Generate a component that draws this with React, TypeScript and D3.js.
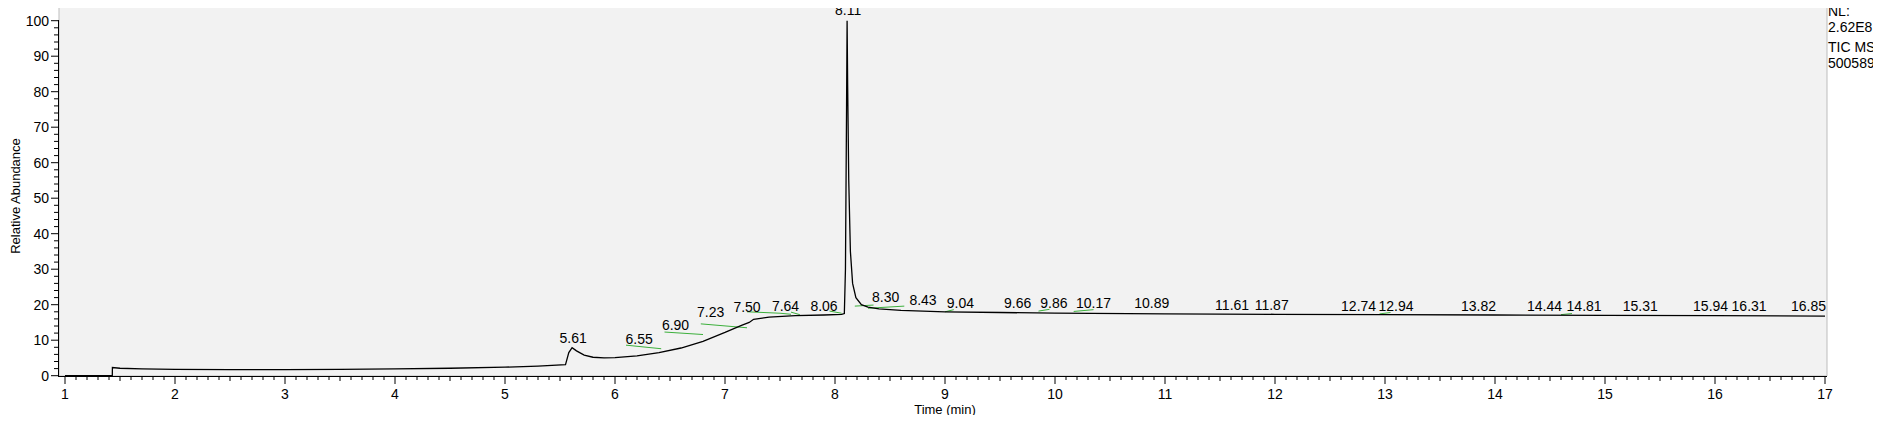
import { useEffect, useRef } from 'react'
import * as d3 from 'd3'

// trace control points (time min, relative abundance %)
const traceTime = [1.0, 1.43, 1.431, 1.5, 1.7, 2.0, 2.5, 3.0, 3.5, 4.0, 4.5, 5.0, 5.3, 5.55, 5.58, 5.61, 5.65, 5.72, 5.8, 5.9, 6.0, 6.2, 6.4, 6.6, 6.8, 7.0, 7.15, 7.22, 7.26, 7.4, 7.64, 7.9, 8.06, 8.085, 8.095, 8.105, 8.11, 8.115, 8.125, 8.14, 8.16, 8.19, 8.24, 8.3, 8.4, 8.6, 9.0, 9.5, 10.0, 11.0, 12.0, 13.0, 14.0, 15.0, 16.0, 17.0]
const traceValue = [0.0, 0.0, 2.3, 2.1, 1.9, 1.8, 1.7, 1.7, 1.8, 1.9, 2.1, 2.4, 2.7, 3.1, 6.5, 7.9, 7.0, 5.8, 5.2, 5.0, 5.1, 5.6, 6.5, 7.8, 9.7, 12.2, 14.2, 15.0, 15.9, 16.5, 16.9, 17.1, 17.3, 17.5, 30, 75, 100, 82, 55, 35, 26, 22, 20, 19.3, 18.8, 18.4, 18.0, 17.8, 17.6, 17.4, 17.3, 17.2, 17.1, 17.0, 16.9, 16.8]

const peakNames = ['5.61', '6.55', '6.90', '7.23', '7.50', '7.64', '8.06', '8.11', '8.30', '8.43', '9.04', '9.66', '9.86', '10.17', '10.89', '11.61', '11.87', '12.74', '12.94', '13.82', '14.44', '14.81', '15.31', '15.94', '16.31', '16.85']
// where each label is drawn (time of its centre, abundance of its baseline)
const labelTime = [5.62, 6.22, 6.55, 6.87, 7.2, 7.55, 7.9, 8.12, 8.46, 8.8, 9.14, 9.66, 9.99, 10.35, 10.88, 11.61, 11.97, 12.76, 13.1, 13.85, 14.45, 14.81, 15.32, 15.96, 16.31, 16.85]
const labelValue = [9.2, 8.8, 12.9, 16.6, 18.0, 18.3, 18.3, 101.5, 20.7, 20.0, 19.0, 19.0, 19.0, 19.0, 19.0, 18.4, 18.4, 18.3, 18.2, 18.2, 18.2, 18.2, 18.2, 18.2, 18.2, 18.2]
// integration baselines: [start, end, startValue, endValue]
const greenSegs: [number, number, number, number][] = [
  [6.1, 6.42, 8.6, 7.6], [6.45, 6.8, 12.3, 11.6], [6.78, 7.2, 14.6, 13.5],
  [7.2, 7.5, 18.0, 17.6], [7.5, 7.6, 17.6, 17.3], [7.6, 7.68, 17.9, 17.2],
  [7.95, 8.06, 18.2, 17.6], [8.18, 8.35, 19.6, 19.9], [8.3, 8.63, 19.0, 19.6],
  [9.0, 9.08, 18.0, 18.6], [9.85, 9.95, 18.2, 18.7], [10.17, 10.35, 18.1, 18.6],
  [12.95, 13.05, 17.4, 17.8], [14.6, 14.7, 17.2, 17.5]
]

const yTicks = [0, 10, 20, 30, 40, 50, 60, 70, 80, 90, 100]
const xTicks = [1, 2, 3, 4, 5, 6, 7, 8, 9, 10, 11, 12, 13, 14, 15, 16, 17]
const sideText = ['NL:', '2.62E8', 'TIC  MS', '500589']

export default function App() {
  const svgRef = useRef<SVGSVGElement>(null)

  useEffect(() => {
    if (!svgRef.current) return
    const svg = d3.select(svgRef.current)
    svg.selectAll('*').remove()
    const font = 'Liberation Sans, Arial, sans-serif'

    const x = d3.scaleLinear().domain([1, 17]).range([65, 1825])
    const y = d3.scaleLinear().domain([0, 100]).range([375.7, 20.7])

    // plot frame
    svg.append('path')
      .attr('d', 'M59,376 L59,8 Q59,4 63,4 L1827,4 L1827,376 Z')
      .attr('fill', '#f2f2f2').attr('stroke', '#bdbdbd')

    // axes
    const g = svg.append('g')
    g.append('line').attr('x1', 58.5).attr('x2', 58.5).attr('y1', 20).attr('y2', 376).attr('stroke', '#000')
    g.append('line').attr('x1', 58).attr('x2', 1827).attr('y1', 376.5).attr('y2', 376.5).attr('stroke', '#000')
    d3.range(0, 101, 2).forEach(v => {
      const major = v % 10 === 0
      g.append('line').attr('x1', major ? 51 : 54).attr('x2', 58.5)
        .attr('y1', y(v)).attr('y2', y(v)).attr('stroke', '#000')
    })
    yTicks.forEach(v => {
      g.append('text').attr('x', 49).attr('y', y(v) + 5).attr('text-anchor', 'end')
        .style('font-family', font).style('font-size', '14px').text(v)
    })
    d3.range(10, 171).forEach(k => {
      const t = k / 10
      const major = k % 10 === 0
      g.append('line').attr('x1', x(t)).attr('x2', x(t)).attr('y1', 376.5)
        .attr('y2', major ? 384 : (k % 5 === 0 ? 381 : 380)).attr('stroke', '#000')
    })
    xTicks.forEach(t => {
      g.append('text').attr('x', x(t)).attr('y', 399).attr('text-anchor', 'middle')
        .style('font-family', font).style('font-size', '14px').text(t)
    })
    svg.append('text').attr('x', x(9)).attr('y', 414).attr('text-anchor', 'middle')
      .style('font-family', font).style('font-size', '13px').text('Time (min)')
    svg.append('text').attr('transform', 'translate(20,196) rotate(-90)').attr('text-anchor', 'middle')
      .style('font-family', font).style('font-size', '13px').text('Relative Abundance')

    // green integration baselines
    greenSegs.forEach(([a, b, va, vb]) => {
      svg.append('line').attr('x1', x(a)).attr('x2', x(b)).attr('y1', y(va)).attr('y2', y(vb))
        .attr('stroke', '#3cb03c').attr('stroke-width', 1)
    })

    // trace
    const line = d3.line<number>().x((_, i) => x(traceTime[i])).y(d => y(d))
    svg.append('path').datum(traceValue).attr('d', line).attr('fill', 'none')
      .attr('stroke', '#000').attr('stroke-width', 1.3)

    // peak labels
    peakNames.forEach((name, i) => {
      svg.append('text').attr('x', x(labelTime[i])).attr('y', y(labelValue[i]))
        .attr('text-anchor', 'middle').style('font-family', font).style('font-size', '14px')
        .text(name)
    })

    // side info
    sideText.forEach((s, i) => {
      svg.append('text').attr('x', 1828).attr('y', [16, 32, 52, 68][i])
        .style('font-family', font).style('font-size', '14px').text(s)
    })
  }, [])

  return (
    <div style={{ margin: -8 }}>
      <svg ref={svgRef} width={1881} height={423} style={{ display: 'block', background: '#fff' }}></svg>
    </div>
  )
}
